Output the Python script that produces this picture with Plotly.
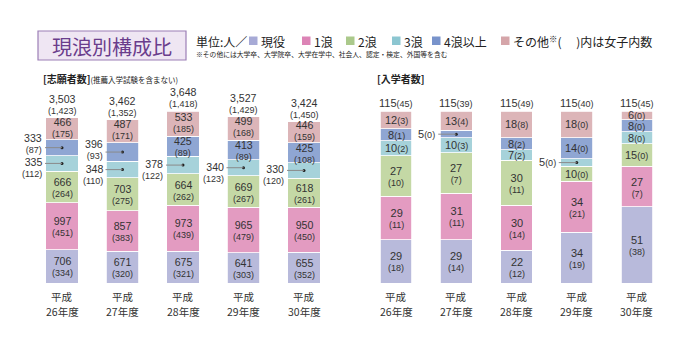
import plotly.graph_objects as go

# ---------------- data ----------------
years = ["26", "27", "28", "29", "30"]
era_label = "平成"
year_labels = [f"{y}年度" for y in years]
series_names = ["現役", "1浪", "2浪", "3浪", "4浪以上", "その他"]

# 志願者数 (推薦入学試験を含まない)
app_genyaku = [706, 671, 675, 641, 655]
app_genyaku_f = [334, 320, 321, 303, 352]
app_r1 = [997, 857, 973, 965, 950]
app_r1_f = [451, 383, 439, 479, 450]
app_r2 = [666, 703, 664, 669, 618]
app_r2_f = [264, 275, 262, 267, 261]
app_r3 = [335, 348, 378, 340, 330]
app_r3_f = [112, 110, 122, 123, 120]
app_r4 = [333, 396, 425, 413, 425]
app_r4_f = [87, 93, 89, 89, 108]
app_other = [466, 487, 533, 499, 446]
app_other_f = [175, 171, 185, 168, 159]
app_total = [3503, 3462, 3648, 3527, 3424]
app_total_f = [1423, 1352, 1418, 1429, 1450]

# 入学者数
ent_genyaku = [29, 29, 22, 34, 51]
ent_genyaku_f = [18, 14, 12, 19, 38]
ent_r1 = [29, 31, 30, 34, 27]
ent_r1_f = [11, 11, 14, 21, 7]
ent_r2 = [27, 27, 30, 10, 15]
ent_r2_f = [10, 7, 11, 0, 0]
ent_r3 = [10, 10, 7, 5, 8]
ent_r3_f = [2, 3, 2, 0, 0]
ent_r4 = [8, 5, 8, 14, 8]
ent_r4_f = [1, 0, 2, 0, 0]
ent_other = [12, 13, 18, 18, 6]
ent_other_f = [3, 4, 8, 0, 0]
ent_total = [115, 115, 115, 115, 115]
ent_total_f = [45, 39, 49, 40, 45]

app_values = [app_genyaku, app_r1, app_r2, app_r3, app_r4, app_other]
app_female = [app_genyaku_f, app_r1_f, app_r2_f, app_r3_f, app_r4_f, app_other_f]
ent_values = [ent_genyaku, ent_r1, ent_r2, ent_r3, ent_r4, ent_other]
ent_female = [ent_genyaku_f, ent_r1_f, ent_r2_f, ent_r3_f, ent_r4_f, ent_other_f]

# labels drawn outside the bar with a leader line: (year index, series index, style)
app_outside = [(0, 4, "above"), (0, 3, "line"), (1, 4, "centered"), (1, 3, "line"),
               (2, 3, "line"), (3, 3, "line"), (4, 3, "line")]
ent_outside = [(1, 4, "single"), (3, 3, "single")]

# ---------------- style ----------------
FONT = "Noto Sans CJK JP"
NUMFONT = "Liberation Sans"
TXT = "#333333"
series_colors = ["#b8badb", "#e39bc1", "#c4d8a5", "#a6d2da", "#8fa6d3", "#dcb5b8"]
legend_colors = ["#a7aad6", "#dc84b6", "#abc98b", "#8cc6d1", "#7893cb", "#d5a5a9"]
W, H = 691, 341


def px(x):
    return x / W


def py(y):
    return 1 - y / H


fig = go.Figure()
xs = list(range(len(years)))

for k, name in enumerate(series_names):
    fig.add_trace(go.Bar(x=xs, y=app_values[k], name=name, xaxis="x", yaxis="y",
                         marker=dict(color=series_colors[k], line=dict(color="white", width=0.8)),
                         showlegend=False, hoverinfo="skip"))
    fig.add_trace(go.Bar(x=xs, y=ent_values[k], name=name, xaxis="x2", yaxis="y2",
                         marker=dict(color=series_colors[k], line=dict(color="white", width=0.8)),
                         showlegend=False, hoverinfo="skip"))

annotations = []
shapes = []
dots = {"x": ([], []), "x2": ([], [])}


def two(num, par, s1=10.6, s2=9):
    return f"<span style='font-size:{s1}px'>{num}</span><br><span style='font-size:{s2}px'>{par}</span>"


def one(num, par, s1=11, s2=9):
    return f"<span style='font-size:{s1}px'>{num}</span><span style='font-size:{s2}px'>{par}</span>"


def ann(xr, yr, x, y, text, base=8.45, xanchor="center", xshift=0, yshift=0, align="center",
        family=NUMFONT):
    annotations.append(dict(xref=xr, yref=yr, x=x, y=y, text=text, showarrow=False,
                            xanchor=xanchor, yanchor="middle", xshift=xshift, yshift=yshift,
                            align=align, borderpad=0,
                            font=dict(family=family, size=base, color=TXT)))


def centers(values, i, k):
    base = sum(values[j][i] for j in range(k))
    return base + values[k][i] / 2


# ---- left chart (志願者数) ----
out_l = {(i, k): s for i, k, s in app_outside}
top_series = len(series_names) - 1
for i in xs:
    for k in range(len(series_names)):
        c = centers(app_values, i, k)
        num = f"{app_values[k][i]:,}"
        par = f"({app_female[k][i]})"
        if (i, k) in out_l:
            style = out_l[(i, k)]
            ysh = {"line": -4.5, "above": 4.5, "centered": 2.5}[style]
            ann("x", "y", i, c, two(num, par), xanchor="right", xshift=-19, yshift=ysh, align="right")
            shapes.append(dict(type="line", xref="x", yref="y", xsizemode="pixel", xanchor=i,
                               x0=-17, x1=0, y0=c, y1=c, line=dict(color="#8a8a8a", width=1)))
            dots["x"][0].append(i)
            dots["x"][1].append(c)
        else:
            ann("x", "y", i, c, two(num, par), yshift=1.5 if k == top_series else -0.5)
    ann("x", "y", i, app_total[i], two(f"{app_total[i]:,}", f"({app_total_f[i]:,})"), yshift=13)

# ---- right chart (入学者数) ----
out_r = {(i, k): s for i, k, s in ent_outside}
for i in xs:
    for k in range(len(series_names)):
        c = centers(ent_values, i, k)
        v = ent_values[k][i]
        f = ent_female[k][i]
        if (i, k) in out_r:
            ann("x2", "y2", i, c, one(v, f"({f})"), xanchor="right", xshift=-20, yshift=0.5)
            shapes.append(dict(type="line", xref="x2", yref="y2", xsizemode="pixel", xanchor=i,
                               x0=-18, x1=0, y0=c, y1=c, line=dict(color="#8a8a8a", width=1)))
            dots["x2"][0].append(i)
            dots["x2"][1].append(c)
        elif v >= 20:
            ann("x2", "y2", i, c, two(v, f"({f})", 11, 9), base=8.5, yshift=-0.5)
        else:
            ann("x2", "y2", i, c, one(v, f"({f})"))
    ann("x2", "y2", i, ent_total[i], one(ent_total[i], f"({ent_total_f[i]})"), yshift=8)

# ---- year labels under the bars ----
for xr, yr in (("x", "y"), ("x2", "y2")):
    for i in xs:
        ann(xr, yr, i, 0, era_label, base=10.5, yshift=-13.5, family=FONT)
        ann(xr, yr, i, 0, year_labels[i], base=10.5, yshift=-28.5, family=FONT)

for xr, yr in (("x", "y"), ("x2", "y2")):
    fig.add_trace(go.Scatter(x=dots[xr][0], y=dots[xr][1], mode="markers", xaxis=xr, yaxis=yr,
                             marker=dict(color="#222222", size=3), showlegend=False,
                             hoverinfo="skip", cliponaxis=False))

# ---- title box ----
shapes.append(dict(type="rect", xref="paper", yref="paper", x0=px(38), x1=px(186), y0=py(60), y1=py(31),
                   fillcolor="#efe6f3", line=dict(color="#9c7fb6", width=1.2), layer="below"))
annotations.append(dict(xref="paper", yref="paper", x=px(112), y=py(46), text="現浪別構成比",
                        showarrow=False, xanchor="center", yanchor="middle",
                        font=dict(family=FONT, size=20, color="#6a3d8c")))

# ---- legend row ----
annotations.append(dict(xref="paper", yref="paper", x=px(194), y=py(41), text="単位:人／",
                        showarrow=False, xanchor="left", yanchor="middle",
                        font=dict(family=FONT, size=12, color="#222222")))
legend_x = [249, 302, 346, 392, 432, 501]
for k, name in enumerate(series_names):
    x0 = legend_x[k]
    shapes.append(dict(type="rect", xref="paper", yref="paper", x0=px(x0), x1=px(x0 + 8.5),
                       y0=py(45), y1=py(36.5), fillcolor=legend_colors[k], line=dict(width=0)))
    label = name if k < 5 else "その他<sup>※</sup>( 　)内は女子内数"
    annotations.append(dict(xref="paper", yref="paper", x=px(x0 + 10), y=py(41), text=label,
                            showarrow=False, xanchor="left", yanchor="middle",
                            font=dict(family=FONT, size=12, color="#222222")))
annotations.append(dict(xref="paper", yref="paper", x=px(194), y=py(54),
                        text="※その他には大学卒、大学院卒、大学在学中、社会人、認定・検定、外国等を含む",
                        showarrow=False, xanchor="left", yanchor="middle",
                        font=dict(family=FONT, size=6.8, color="#222222")))

# ---- section headers ----
annotations.append(dict(xref="paper", yref="paper", x=px(41), y=py(78),
                        text="<b>[志願者数]</b><span style='font-size:7.5px'>(推薦入学試験を含まない)</span>",
                        showarrow=False, xanchor="left", yanchor="middle",
                        font=dict(family=FONT, size=10, color="#222222")))
annotations.append(dict(xref="paper", yref="paper", x=px(375), y=py(78), text="<b>[入学者数]</b>",
                        showarrow=False, xanchor="left", yanchor="middle",
                        font=dict(family=FONT, size=10, color="#222222")))

axis_common = dict(showgrid=False, zeroline=False, showline=False, ticks="", fixedrange=True,
                   showticklabels=False)
ydom = [py(283), py(111)]

fig.update_layout(
    width=W, height=H, margin=dict(l=0, r=0, t=0, b=0),
    paper_bgcolor="white", plot_bgcolor="white",
    barmode="stack", bargap=0.47,
    showlegend=False,
    xaxis=dict(domain=[px(31.75), px(334.25)], range=[-0.5, 4.5], anchor="y", **axis_common),
    yaxis=dict(domain=ydom, range=[0, max(app_total)], anchor="x", **axis_common),
    xaxis2=dict(domain=[px(365.9), px(667.1)], range=[-0.5, 4.5], anchor="y2", **axis_common),
    yaxis2=dict(domain=ydom, range=[0, max(ent_total)], anchor="x2", **axis_common),
    annotations=annotations, shapes=shapes,
)

fig.write_html("out.html")
